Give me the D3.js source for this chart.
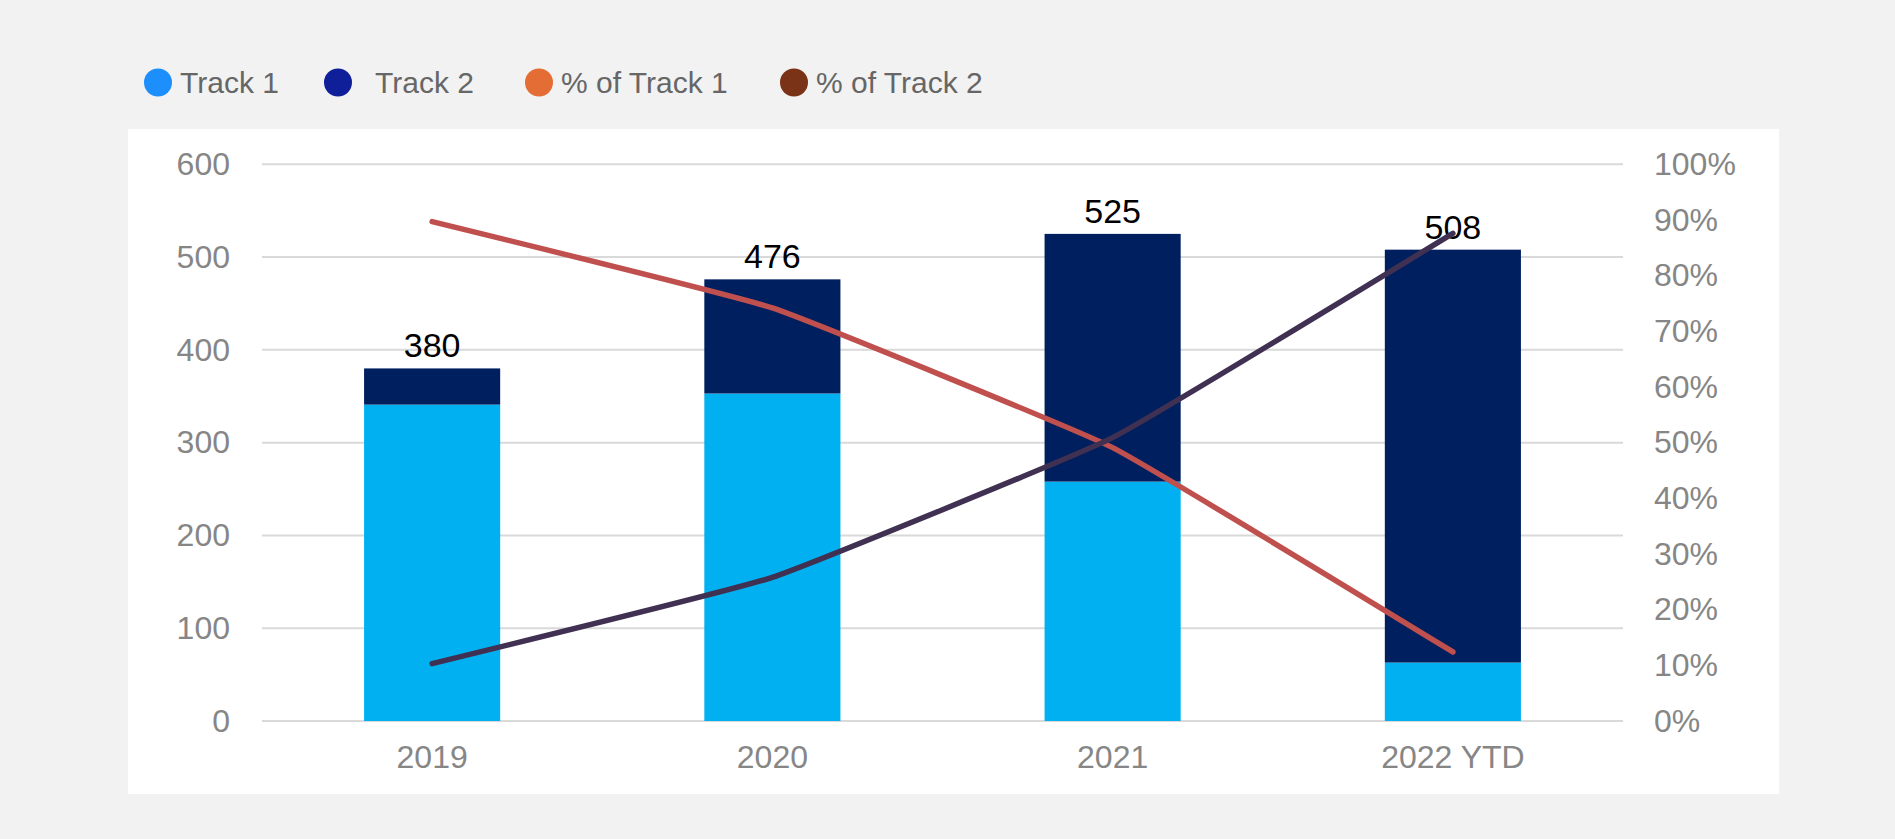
<!DOCTYPE html>
<html>
<head>
<meta charset="utf-8">
<script src="https://cdn.jsdelivr.net/npm/d3@7"></script>
<style>
  html, body { margin: 0; padding: 0; background: #f2f2f2; }
  svg { display: block; }
  text { font-family: "Liberation Sans", Arial, sans-serif; }
</style>
</head>
<body>
<svg id="chart" width="1895" height="839"></svg>
<script>
// Yearly counts per track
const years = ["2019", "2020", "2021", "2022 YTD"];
const track1 = [341, 353, 258, 63];
const track2 = [39, 123, 267, 445];
const totals = [380, 476, 525, 508];
// Share of each track in the yearly total
const pctTrack1 = [0.897, 0.742, 0.491, 0.124];
const pctTrack2 = [0.103, 0.258, 0.509, 0.876];
// Axis ticks
const leftTicks = [0, 100, 200, 300, 400, 500, 600];
const rightTicks = [0, 0.1, 0.2, 0.3, 0.4, 0.5, 0.6, 0.7, 0.8, 0.9, 1.0];
// Legend entries
const legendItems = [
  { label: "Track 1", color: "#1c8ffc" },
  { label: "Track 2", color: "#0f1f9a" },
  { label: "% of Track 1", color: "#e46c35" },
  { label: "% of Track 2", color: "#7a3316" }
];

const svg = d3.select("#chart");

// White plot panel
svg.append("rect")
  .attr("x", 128).attr("y", 129)
  .attr("width", 1651).attr("height", 665)
  .attr("fill", "#ffffff");

const plot = { left: 262, right: 1623, top: 164.3, bottom: 721 };

const x = d3.scaleBand().domain(years).range([plot.left, plot.right]).padding(0);
const barW = x.bandwidth() * 0.4;
const yL = d3.scaleLinear().domain([0, 600]).range([plot.bottom, plot.top]);
const yR = d3.scaleLinear().domain([0, 1]).range([plot.bottom, plot.top]);

// Horizontal gridlines from left axis
svg.append("g").selectAll("line").data(leftTicks).join("line")
  .attr("x1", plot.left).attr("x2", plot.right)
  .attr("y1", d => yL(d)).attr("y2", d => yL(d))
  .attr("stroke", "#d9d9d9").attr("stroke-width", 2);

// Left axis labels
const leftAxis = d3.axisLeft(yL).tickValues(leftTicks).tickSize(0).tickPadding(0);
const gl = svg.append("g").attr("transform", "translate(230,0)").call(leftAxis);
gl.select(".domain").remove();
gl.selectAll("text").attr("font-size", 32).attr("fill", "#868686")
  .attr("font-family", "Liberation Sans, Arial, sans-serif");

// Right axis labels
const rightAxis = d3.axisRight(yR).tickValues(rightTicks).tickSize(0).tickPadding(0)
  .tickFormat(d3.format(".0%"));
const gr = svg.append("g").attr("transform", "translate(1654,0)").call(rightAxis);
gr.select(".domain").remove();
gr.selectAll("text").attr("font-size", 32).attr("fill", "#868686")
  .attr("font-family", "Liberation Sans, Arial, sans-serif");

// Category labels
const xAxis = d3.axisBottom(x).tickSize(0).tickPadding(0);
const gx = svg.append("g").attr("transform", "translate(0,745)").call(xAxis);
gx.select(".domain").remove();
gx.selectAll("text").attr("font-size", 32).attr("fill", "#868686")
  .attr("font-family", "Liberation Sans, Arial, sans-serif");

// Stacked bars
const barData = years.map((yr, i) => ({ yr, t1: track1[i], t2: track2[i], total: totals[i] }));
const bars = svg.append("g");
bars.selectAll("rect.t1").data(barData).join("rect")
  .attr("class", "t1")
  .attr("x", d => x(d.yr) + x.bandwidth() / 2 - barW / 2)
  .attr("width", barW)
  .attr("y", d => yL(d.t1))
  .attr("height", d => yL(0) - yL(d.t1))
  .attr("fill", "#00b0f0");
bars.selectAll("rect.t2").data(barData).join("rect")
  .attr("class", "t2")
  .attr("x", d => x(d.yr) + x.bandwidth() / 2 - barW / 2)
  .attr("width", barW)
  .attr("y", d => yL(d.t1 + d.t2))
  .attr("height", d => yL(d.t1) - yL(d.t1 + d.t2))
  .attr("fill", "#001f5f");

// Total labels above bars
svg.append("g").selectAll("text").data(barData).join("text")
  .attr("x", d => x(d.yr) + x.bandwidth() / 2)
  .attr("y", d => yL(d.total) - 11)
  .attr("text-anchor", "middle")
  .attr("font-size", 34)
  .attr("fill", "#000")
  .text(d => d.total);

// Percentage lines on right axis, lightly smoothed
const line = d3.line()
  .x((d, i) => x(years[i]) + x.bandwidth() / 2)
  .y(d => yR(d))
  .curve(d3.curveCardinal.tension(0.7));

svg.append("path").datum(pctTrack1)
  .attr("d", line).attr("fill", "none")
  .attr("stroke", "#c0504d").attr("stroke-width", 5.5)
  .attr("stroke-linecap", "round").attr("stroke-linejoin", "round");
svg.append("path").datum(pctTrack2)
  .attr("d", line).attr("fill", "none")
  .attr("stroke", "#403152").attr("stroke-width", 5.5)
  .attr("stroke-linecap", "round").attr("stroke-linejoin", "round");

// Legend
const legendX = [158, 338, 539, 794];
const legend = svg.append("g");
const li = legend.selectAll("g").data(legendItems).join("g")
  .attr("transform", (d, i) => `translate(${legendX[i]},82.5)`);
li.append("circle").attr("r", 14).attr("fill", d => d.color);
li.append("text")
  .attr("x", (d, i) => i === 1 ? 37 : 22)
  .attr("y", 10.5)
  .attr("font-size", 30)
  .attr("fill", "#666")
  .text(d => d.label);
</script>
</body>
</html>
